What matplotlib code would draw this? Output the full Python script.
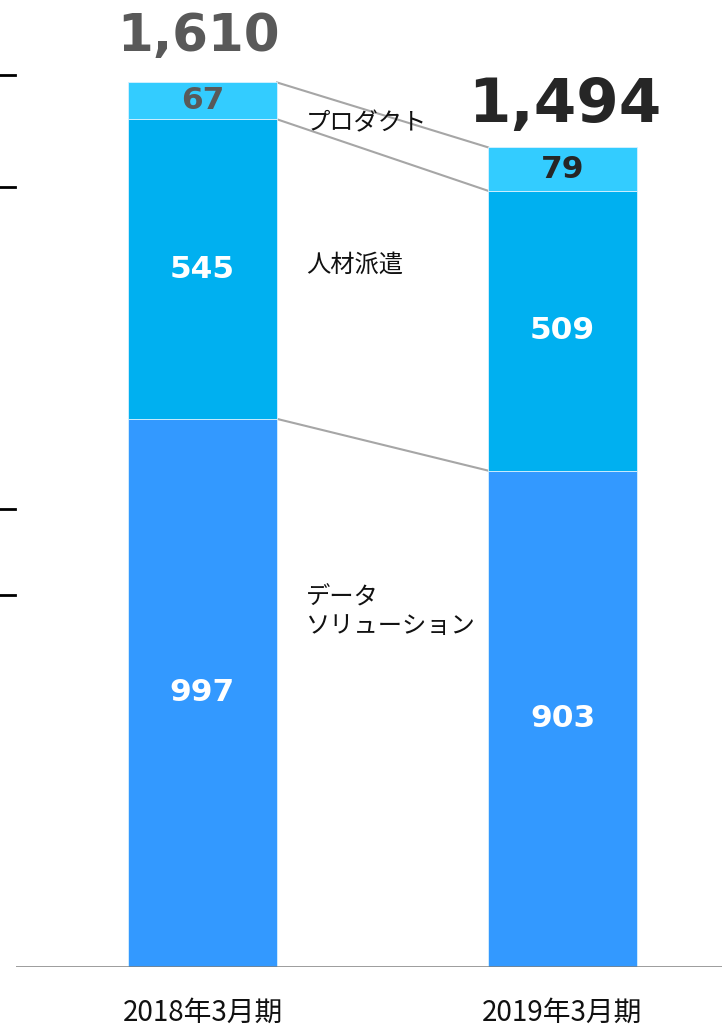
import matplotlib
matplotlib.use("Agg")
import matplotlib.pyplot as plt
import numpy as np

plt.rcParams['font.family'] = ['Noto Sans CJK JP', 'DejaVu Sans']

# Revenue breakdown by segment (units as labelled)
periods = ["2018年3月期", "2019年3月期"]
segments = ["データ\nソリューション", "人材派遣", "プロダクト"]
data_solution = [997, 903]
staffing = [545, 509]
product = [67, 79]
totals = ["1,610", "1,494"]

seg_values = [data_solution, staffing, product]
seg_colors = ["#3399FF", "#00B0F0", "#33CCFF"]
label_colors = [["white", "white", "#595959"], ["white", "white", "#262626"]]
total_colors = ["#595959", "#262626"]
total_sizes = [37, 44]
total_gaps = [38, 22]
total_shift = [-0.012, 0.006]

W, H = 722, 1028
fig = plt.figure(figsize=(W / 100, H / 100), dpi=100)
ax = fig.add_axes([16 / W, 61 / H, 706 / W, 967 / H])

x = np.arange(len(periods))
bar_w = 0.414
ax.set_xlim(-0.518, 1.443)
ax.set_ylim(0, 1759)

bottoms = np.zeros(len(periods))
tops = []
for vals, col in zip(seg_values, seg_colors):
    vals = np.array(vals, dtype=float)
    ax.bar(x, vals, bar_w, bottom=bottoms, color=col,
           edgecolor="#d8f1ff", linewidth=0.6, zorder=2)
    bottoms = bottoms + vals
    tops.append(bottoms.copy())

# value labels inside each segment
base = np.zeros(len(periods))
for si, vals in enumerate(seg_values):
    for i, v in enumerate(vals):
        ax.text(x[i], base[i] + v / 2, f"{v}", ha="center", va="center",
                fontsize=22.5, fontweight="bold", family="DejaVu Sans",
                color=label_colors[i][si], zorder=3)
    base = base + np.array(vals)

# connector lines between segment tops
for t in tops:
    ax.plot([x[0] + bar_w / 2, x[1] - bar_w / 2], [t[0], t[1]],
            color="#A6A6A6", lw=1.5, zorder=1)

# totals above bars
for i in range(len(periods)):
    ax.text(x[i] + total_shift[i], tops[-1][i] + total_gaps[i], totals[i],
            ha="center", va="bottom", fontsize=total_sizes[i], fontweight="bold",
            family="DejaVu Sans", color=total_colors[i])

# segment names between the bars
name_x = x[0] + bar_w / 2 + 29 / 360
ax.text(name_x, 1535, segments[2], ha="left", va="center", fontsize=17.5, color="#111111")
ax.text(name_x, 1277, segments[1], ha="left", va="center", fontsize=17.5, color="#111111")
ax.text(name_x, 646, segments[0], ha="left", va="center", fontsize=17.5,
        color="#111111", linespacing=1.15)

# baseline
ax.axhline(0, color="#808080", lw=1.8, zorder=4)

for s in ax.spines.values():
    s.set_visible(False)
ax.set_xticks(x)
ax.set_xticklabels(periods, fontsize=20, color="#111111")
ax.tick_params(axis="x", length=0, pad=22)
ax.set_yticks([])

# short marks at the left edge
for yy in [75, 187, 509, 595]:
    fig.add_artist(plt.Line2D([0, 15 / W], [1 - yy / H, 1 - yy / H],
                              transform=fig.transFigure, color="black", lw=2))

fig.savefig("out.png", dpi=100)
